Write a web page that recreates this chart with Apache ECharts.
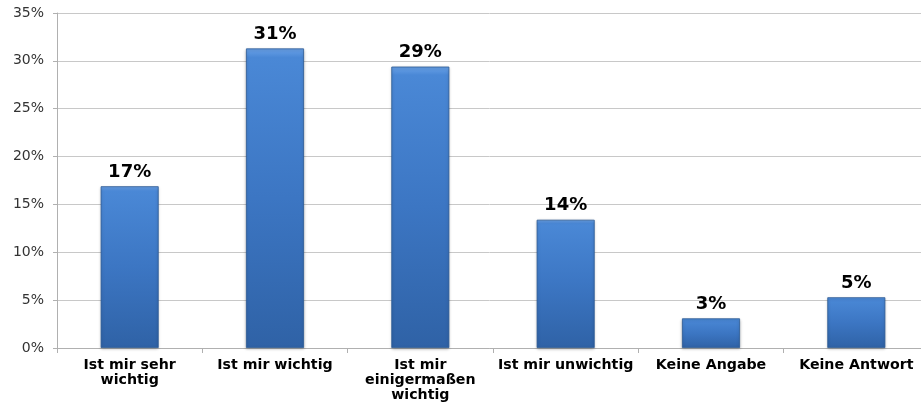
<!DOCTYPE html>
<html><head><meta charset="utf-8">
<script src="https://cdn.jsdelivr.net/npm/echarts@6/dist/echarts.min.js"></script>
<style>html,body{margin:0;padding:0;background:#fff}#c{width:921px;height:410px}</style>
</head><body><div id="c"></div>
<script>
var categories = ["Ist mir sehr\nwichtig", "Ist mir wichtig", "Ist mir\neinigermaßen\nwichtig", "Ist mir unwichtig", "Keine Angabe", "Keine Antwort"];
var values = [16.9, 31.3, 29.4, 13.4, 3.1, 5.3];
var valueLabels = ["17%", "31%", "29%", "14%", "3%", "5%"];
var yTicks = [0, 5, 10, 15, 20, 25, 30, 35];

var chart = echarts.init(document.getElementById('c'), null, {renderer: 'canvas'});
var barColor = new echarts.graphic.LinearGradient(0, 0, 0, 1, [
  {offset: 0, color: '#6aa2e8'},
  {offset: 0.03, color: '#4a88d6'},
  {offset: 0.5, color: '#3c76c3'},
  {offset: 1, color: '#2f62a6'}
]);
chart.setOption({
  animation: false,
  grid: {left: 57, top: 13, bottom: 62, width: 872, containLabel: false, outerBoundsMode: 'none'},
  xAxis: {
    type: 'category', data: categories,
    axisLine: {lineStyle: {color: '#b0b0b0'}},
    axisTick: {show: true, length: 5, lineStyle: {color: '#b0b0b0'}},
    axisLabel: {interval: 0, color: '#000', fontFamily: 'DejaVu Sans', fontWeight: 'bold', fontSize: 14.2, lineHeight: 15, margin: 10}
  },
  yAxis: {
    type: 'value', min: yTicks[0], max: yTicks[yTicks.length - 1], interval: 5,
    axisLine: {show: true, lineStyle: {color: '#b0b0b0'}},
    axisTick: {show: true, length: 4, lineStyle: {color: '#b0b0b0'}},
    splitLine: {lineStyle: {color: '#c8c8c8'}},
    axisLabel: {formatter: '{value}%', color: '#333', fontFamily: 'DejaVu Sans', fontSize: 14, margin: 13}
  },
  series: [{
    type: 'bar', data: values, barWidth: 58,
    itemStyle: {color: barColor, borderColor: '#2c5a96', borderWidth: 0.8,
      shadowColor: 'rgba(0,0,0,0.25)', shadowBlur: 3, shadowOffsetY: 1},
    label: {show: true, position: 'top', distance: 5,
      formatter: function (p) { return valueLabels[p.dataIndex]; },
      color: '#000', fontFamily: 'DejaVu Sans', fontWeight: 'bold', fontSize: 18}
  }]
});
</script></body></html>
